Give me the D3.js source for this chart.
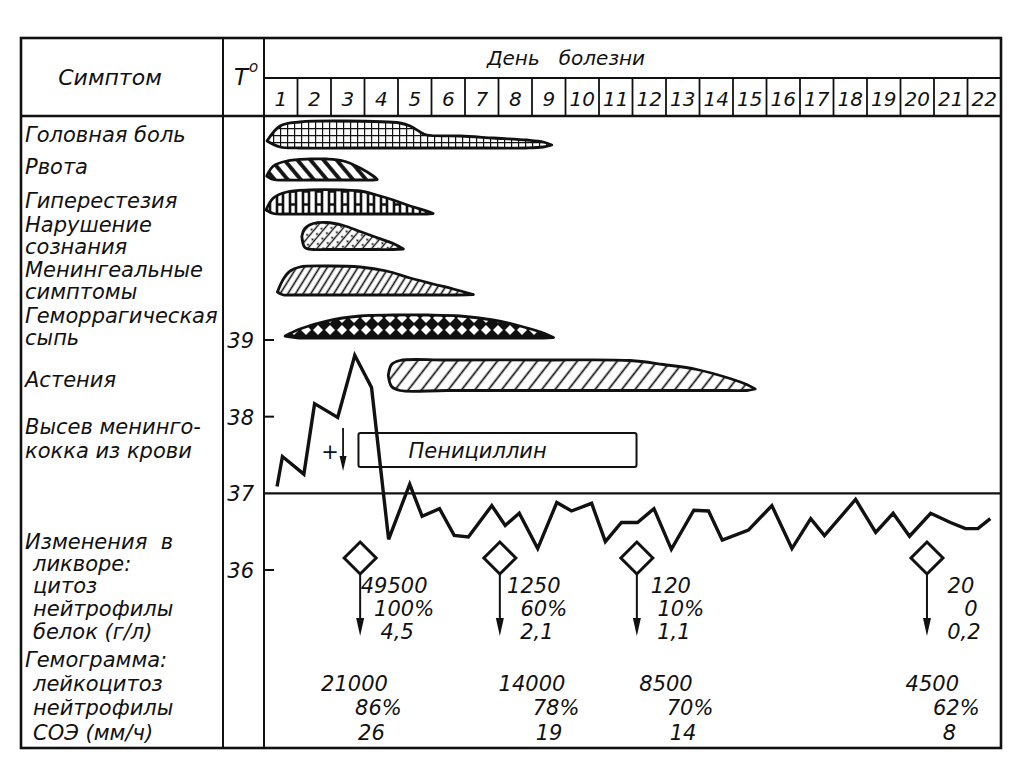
<!DOCTYPE html>
<html>
<head>
<meta charset="utf-8">
<script src="https://cdn.jsdelivr.net/npm/d3@7"></script>
<style>
  body { margin: 0; background: #fff; }
  text { font-family: "DejaVu Sans", sans-serif; font-style: italic; fill: #111; }
</style>
</head>
<body>
<svg id="chart" width="1024" height="767"></svg>
<script>
// ---- data ----
var days = d3.range(1, 23);

var symptoms = ["Головная боль", "Рвота", "Гиперестезия", "Нарушение|сознания",
                "Менингеальные|симптомы", "Геморрагическая|сыпь", "Астения"];

// shape profile per symptom: day position, lower and upper edge (severity units)
var symptomDays = [
  [0.09, 0.48, 1.07, 2.37, 4.06, 4.36, 4.66, 4.86, 5.85, 6.84, 7.84, 8.34, 8.59],
  [0.08, 0.28, 0.68, 1.37, 1.87, 2.37, 2.87, 3.26, 3.38],
  [0.06, 0.28, 0.68, 1.37, 2.37, 2.87, 3.36, 3.86, 4.36, 4.86, 5.05],
  [1.13, 1.22, 1.47, 1.87, 2.37, 2.87, 3.36, 3.86, 4.16],
  [0.40, 0.58, 0.78, 1.07, 1.87, 2.87, 3.66, 4.36, 5.05, 5.65, 6.25],
  [0.63, 1.07, 1.87, 2.87, 3.86, 4.86, 5.85, 6.84, 7.64, 8.34, 8.64],
  [3.71, 3.81, 4.06, 5.45, 8.44, 10.93, 11.92, 12.92, 13.91, 14.41, 14.66]
];
var symptomUpper = [
  [0.7, 2.2, 2.6, 2.7, 2.5, 2.2, 1.6, 1.3, 1.2, 1.0, 0.8, 0.6, 0.3],
  [0.4, 1.4, 1.9, 2.1, 2.1, 1.9, 1.2, 0.4, 0.05],
  [0.4, 1.6, 2.2, 2.4, 2.4, 2.3, 1.9, 1.4, 0.8, 0.3, 0.05],
  [1.3, 2.1, 2.6, 2.7, 2.4, 1.8, 1.2, 0.6, 0.05],
  [0.3, 1.6, 2.4, 2.8, 2.9, 2.8, 2.4, 1.7, 1.1, 0.6, 0.05],
  [0.2, 0.9, 1.7, 2.2, 2.3, 2.3, 2.2, 1.8, 1.2, 0.5, 0.05],
  [1.5, 2.6, 3.0, 3.05, 3.05, 3.0, 2.6, 2.1, 1.2, 0.6, 0.15]
];
var symptomLower = [
  [0.7, 0.1, 0, 0, 0, 0, 0, 0, 0, 0, 0, 0.1, 0.3],
  [0.4, 0.05, 0, 0, 0, 0, 0, 0, 0.05],
  [0.4, 0.05, 0, 0, 0, 0, 0, 0, 0, 0, 0.05],
  [1.3, 0.2, 0, 0, 0, 0, 0, 0, 0.05],
  [0.3, 0, 0, 0, 0, 0, 0, 0, 0, 0, 0.05],
  [0.2, 0, 0, 0, 0, 0, 0, 0, 0, 0, 0.05],
  [1.5, 0.4, 0, 0, 0, 0, 0, 0, 0, 0, 0.15]
];
var symptomFills = ["grid", "diagBack", "ladder", "dotDiag", "diagFine", "diamonds", "diagWide"];

// temperature, twice a day
var tempDays = [0.39, 0.55, 1.19, 1.51, 2.20, 2.71, 3.21, 3.72, 4.35, 4.72, 5.24, 5.68,
                6.10, 6.80, 7.20, 7.62, 8.17, 8.74, 9.18, 9.78, 10.19, 10.67, 11.15, 11.64,
                12.16, 12.83, 13.27, 13.68, 14.46, 15.16, 15.76, 16.32, 16.73, 17.66, 18.26,
                18.78, 19.27, 19.90, 20.49, 20.94, 21.31, 21.68];
var tempValues = [37.09, 37.48, 37.25, 38.17, 37.99, 38.80, 38.38, 36.40, 37.12, 36.70, 36.80, 36.45,
                  36.43, 36.84, 36.58, 36.74, 36.28, 36.88, 36.77, 36.87, 36.37, 36.62, 36.62, 36.80,
                  36.27, 36.78, 36.77, 36.39, 36.52, 36.84, 36.28, 36.67, 36.45, 36.92, 36.49,
                  36.74, 36.44, 36.74, 36.62, 36.54, 36.54, 36.67];
var tempTicks = [36, 37, 38, 39];

var cultureDay = 2.36;
var penicillinCourse = [2.82, 11.12];

// cerebrospinal fluid samples
var liquorDays = [2.87, 7.04, 11.13, 19.79];
var cytosis = ["49500", "1250", "120", "20"];
var liquorNeutro = ["100%", "60%", "10%", "0"];
var protein = ["4,5", "2,1", "1,1", "0,2"];

// blood counts
var hemoDays = [2.7, 8.0, 12.0, 19.95];
var leukocytes = ["21000", "14000", "8500", "4500"];
var hemoNeutro = ["86%", "78%", "70%", "62%"];
var esr = ["26", "19", "14", "8"];

// ---- layout ----
var svg = d3.select("#chart");
var frame = {left: 21, right: 1001, top: 38, bottom: 748, col1: 223, col2: 264, head1: 78, head2: 116};
var fs = "21px";

var x = d3.scaleLinear().domain([0, 22]).range([frame.col2, frame.right]);
var y = d3.scaleLinear().domain([36, 39]).range([570, 340]);
var sev = d3.scaleLinear().domain([0, 1]).range([0, 10]);
var rowBase = d3.scaleOrdinal().domain(symptoms).range([148, 180, 214, 249.5, 295, 338, 390.5]);

// hatch patterns
var defs = svg.append("defs");
function linePattern(id, size, angle, width) {
  var p = defs.append("pattern").attr("id", id).attr("patternUnits", "userSpaceOnUse")
    .attr("width", size).attr("height", size).attr("patternTransform", "rotate(" + angle + ")");
  p.append("rect").attr("width", size).attr("height", size).attr("fill", "#fff");
  p.append("line").attr("x1", size / 2).attr("x2", size / 2).attr("y1", 0).attr("y2", size)
    .attr("stroke", "#111").attr("stroke-width", width);
  return p;
}
linePattern("diagBack", 10, -40, 3.8);
linePattern("diagFine", 6.5, 32, 1.6);
linePattern("diagWide", 10.5, 38, 1.7);
linePattern("dotDiag", 7, 40, 1.4)
  .append("circle").attr("cx", 1.3).attr("cy", 3.5).attr("r", 1.1).attr("fill", "#111");

var grid = defs.append("pattern").attr("id", "grid").attr("patternUnits", "userSpaceOnUse")
  .attr("width", 7).attr("height", 7).attr("y", 2);
grid.append("rect").attr("width", 7).attr("height", 7).attr("fill", "#fff");
grid.append("path").attr("d", "M0,0H7M0,0V7").attr("stroke", "#111").attr("stroke-width", 2.4);

var ladder = defs.append("pattern").attr("id", "ladder").attr("patternUnits", "userSpaceOnUse")
  .attr("width", 13).attr("height", 13).attr("x", 2).attr("y", 3);
ladder.append("rect").attr("width", 13).attr("height", 13).attr("fill", "#fff");
ladder.append("path").attr("d", "M2,0V13M8,0V13M2,6.5H8").attr("stroke", "#111").attr("stroke-width", 2.6);

var diam = defs.append("pattern").attr("id", "diamonds").attr("patternUnits", "userSpaceOnUse")
  .attr("width", 12).attr("height", 12).attr("y", 0);
diam.append("rect").attr("width", 12).attr("height", 12).attr("fill", "#111");
diam.append("path").attr("d", "M6,1L11,6L6,11L1,6Z").attr("fill", "#fff");

// frame
var g = svg.append("g").attr("stroke", "#111").attr("fill", "none");
g.append("rect").attr("x", frame.left).attr("y", frame.top)
  .attr("width", frame.right - frame.left).attr("height", frame.bottom - frame.top).attr("stroke-width", 2.6);
g.append("line").attr("x1", frame.col1).attr("x2", frame.col1).attr("y1", frame.top).attr("y2", frame.bottom).attr("stroke-width", 2);
g.append("line").attr("x1", frame.col2).attr("x2", frame.col2).attr("y1", frame.top).attr("y2", frame.bottom).attr("stroke-width", 2);
g.append("line").attr("x1", frame.col2).attr("x2", frame.right).attr("y1", frame.head1).attr("y2", frame.head1).attr("stroke-width", 2);
g.append("line").attr("x1", frame.left).attr("x2", frame.right).attr("y1", frame.head2).attr("y2", frame.head2).attr("stroke-width", 2.4);
g.selectAll(".daysep").data(days.slice(0, -1)).enter().append("line")
  .attr("x1", function(d) { return x(d); }).attr("x2", function(d) { return x(d); })
  .attr("y1", frame.head1).attr("y2", frame.head2).attr("stroke-width", 1.8);

// header
svg.append("text").attr("x", 110).attr("y", 85).attr("text-anchor", "middle").style("font-size", "22px").text("Симптом");
svg.append("text").attr("x", 234).attr("y", 85).style("font-size", "23px").text("T");
svg.append("text").attr("x", 249).attr("y", 72).style("font-size", "15px").text("o");
svg.append("text").attr("x", 566).attr("y", 65).attr("text-anchor", "middle").style("font-size", "20px")
  .attr("xml:space", "preserve").text("День   болезни");
svg.selectAll(".daylab").data(days).enter().append("text")
  .attr("x", function(d) { return x(d - 0.5); }).attr("y", 106)
  .attr("text-anchor", "middle").style("font-size", "20px").text(function(d) { return d; });

// temperature axis
svg.selectAll(".tlab").data(tempTicks).enter().append("text")
  .attr("x", 254).attr("y", function(d) { return y(d) + 8; })
  .attr("text-anchor", "end").style("font-size", "21px").text(function(d) { return d; });
g.selectAll(".tick").data(tempTicks.filter(function(d) { return d !== 37; })).enter().append("line")
  .attr("x1", frame.col2).attr("x2", frame.col2 + 10)
  .attr("y1", function(d) { return y(d); }).attr("y2", function(d) { return y(d); }).attr("stroke-width", 2);
g.append("line").attr("x1", frame.col2).attr("x2", frame.right)
  .attr("y1", y(37)).attr("y2", y(37)).attr("stroke-width", 2.2);

// left labels
function lines(s) { return s.split("|"); }
symptoms.forEach(function(s) {
  var ls = lines(s), b = rowBase(s);
  var base0 = ls.length === 1 ? b - 6 : b - 18;
  if (s === "Астения") base0 = b - 4;
  if (s === "Геморрагическая|сыпь") base0 = b - 15;
  ls.forEach(function(l, i) {
    svg.append("text").attr("x", 25).attr("y", base0 + i * 22).style("font-size", fs).text(l);
  });
});
var lowerLabels = [
  ["Высев менинго-", 25, 434], ["кокка из крови", 25, 458],
  ["Изменения  в", 25, 549], ["ликворе:", 33, 571], ["цитоз", 33, 593],
  ["нейтрофилы", 33, 616], ["белок (г/л)", 33, 639], ["Гемограмма:", 25, 667],
  ["лейкоцитоз", 33, 691], ["нейтрофилы", 33, 715], ["СОЭ (мм/ч)", 33, 740]
];
svg.selectAll(".llab").data(lowerLabels).enter().append("text")
  .attr("x", function(d) { return d[1]; }).attr("y", function(d) { return d[2]; })
  .attr("xml:space", "preserve").style("font-size", fs).text(function(d) { return d[0]; });

// symptom shapes
symptoms.forEach(function(s, i) {
  var pts = symptomDays[i].map(function(t, j) {
    return {t: t, lo: symptomLower[i][j], hi: symptomUpper[i][j]};
  });
  var b = rowBase(s);
  var area = d3.area()
    .x(function(d) { return x(d.t); })
    .y0(function(d) { return b - sev(d.lo); })
    .y1(function(d) { return b - sev(d.hi); })
    .curve(d3.curveCatmullRom.alpha(0.5));
  svg.append("path").datum(pts).attr("d", area)
    .attr("fill", "url(#" + symptomFills[i] + ")")
    .attr("stroke", "#111").attr("stroke-width", 2.8).attr("stroke-linejoin", "round");
});

// blood culture and penicillin
svg.append("text").attr("x", x(cultureDay) - 13).attr("y", 459).attr("text-anchor", "middle")
  .style("font-size", "21px").style("font-style", "normal").text("+");
g.append("line").attr("x1", x(cultureDay)).attr("x2", x(cultureDay)).attr("y1", 428).attr("y2", 462).attr("stroke-width", 1.8);
svg.append("path").attr("d", "M" + (x(cultureDay) - 3.5) + ",456L" + x(cultureDay) + ",471L" + (x(cultureDay) + 3.5) + ",456Z")
  .attr("fill", "#111");
g.append("rect").attr("x", x(penicillinCourse[0])).attr("y", 433)
  .attr("width", x(penicillinCourse[1]) - x(penicillinCourse[0])).attr("height", 34)
  .attr("fill", "#fff").attr("stroke-width", 2).attr("rx", 2);
svg.append("text").attr("x", x(penicillinCourse[0]) + 50).attr("y", 458).style("font-size", fs).text("Пенициллин");

// temperature curve
var tempLine = d3.line().x(function(d) { return x(d[0]); }).y(function(d) { return y(d[1]); });
svg.append("path").datum(d3.zip(tempDays, tempValues)).attr("d", tempLine)
  .attr("fill", "none").attr("stroke", "#111").attr("stroke-width", 3.4).attr("stroke-linejoin", "miter");

// liquor samples
var samp = svg.selectAll(".samp").data(liquorDays).enter().append("g")
  .attr("transform", function(d) { return "translate(" + x(d) + ",558)"; });
samp.append("path").attr("d", "M0,-16L16,0L0,16L-16,0Z").attr("fill", "#fff").attr("stroke", "#111").attr("stroke-width", 3);
samp.append("line").attr("y1", 16).attr("y2", 66).attr("stroke", "#111").attr("stroke-width", 2);
samp.append("path").attr("d", "M-4,60L0,78L4,60Z").attr("fill", "#111");
samp.append("text").attr("x", 34).attr("y", 35).attr("text-anchor", "middle").style("font-size", fs)
  .text(function(d, i) { return cytosis[i]; });
samp.append("text").attr("x", 44).attr("y", 58).attr("text-anchor", "middle").style("font-size", fs)
  .text(function(d, i) { return liquorNeutro[i]; });
samp.append("text").attr("x", 37).attr("y", 81).attr("text-anchor", "middle").style("font-size", fs)
  .text(function(d, i) { return protein[i]; });

// hemogram
var hemo = svg.selectAll(".hemo").data(hemoDays).enter().append("g")
  .attr("transform", function(d) { return "translate(" + x(d) + ",0)"; });
hemo.append("text").attr("y", 691).attr("text-anchor", "middle").style("font-size", fs)
  .text(function(d, i) { return leukocytes[i]; });
hemo.append("text").attr("x", 24).attr("y", 715).attr("text-anchor", "middle").style("font-size", fs)
  .text(function(d, i) { return hemoNeutro[i]; });
hemo.append("text").attr("x", 17).attr("y", 740).attr("text-anchor", "middle").style("font-size", fs)
  .text(function(d, i) { return esr[i]; });
</script>
</body>
</html>
